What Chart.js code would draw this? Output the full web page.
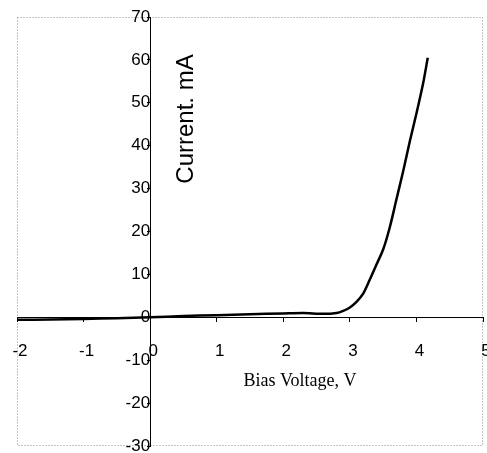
<!DOCTYPE html>
<html>
<head>
<meta charset="utf-8">
<script src="https://cdn.jsdelivr.net/npm/chart.js@4"></script>
<style>
  body { margin: 0; background: #fff; }
  #wrap { width: 487px; height: 453px; }
</style>
</head>
<body>
<div id="wrap"><canvas id="myChart" width="487" height="453"></canvas></div>
<script>
// I-V curve
const voltage = [-2, -1.5, -1, -0.5, 0, 0.5, 1, 1.5, 2, 2.3, 2.6, 2.8, 2.9, 3.0, 3.1, 3.2, 3.3, 3.4, 3.5, 3.6, 3.7, 3.8, 3.9, 4.0, 4.1, 4.17];
const current = [-0.6, -0.5, -0.4, -0.2, 0, 0.3, 0.5, 0.7, 0.9, 1.0, 0.8, 1.0, 1.5, 2.3, 3.6, 5.5, 8.8, 12.3, 15.8, 21, 27.5, 34, 41, 47.5, 54.5, 60.5];

const xTitle = 'Bias Voltage, V';
const yTitle = 'Current. mA';

const points = [];
for (let i = 0; i < voltage.length; i++) {
  points.push({ x: voltage[i], y: current[i] });
}

// keep the tick labels from shrinking the plot area
const noOverhang = (scale) => {
  scale.paddingLeft = 0;
  scale.paddingRight = 0;
  scale.paddingTop = 0;
  scale.paddingBottom = 0;
};

const frameAndTitles = {
  id: 'frameAndTitles',
  beforeDraw(chart) {
    const { ctx, chartArea } = chart;
    ctx.save();
    ctx.strokeStyle = '#8a8a8a';
    ctx.lineWidth = 1;
    ctx.setLineDash([1, 2]);
    ctx.strokeRect(chartArea.left + 0.5, chartArea.top + 0.5,
      chartArea.right - chartArea.left - 1, chartArea.bottom - chartArea.top - 1);
    ctx.restore();
  },
  afterDraw(chart) {
    const { ctx } = chart;
    ctx.save();
    ctx.fillStyle = '#000';
    ctx.textAlign = 'center';
    ctx.textBaseline = 'middle';
    ctx.font = '18px "Liberation Serif"';
    ctx.fillText(xTitle, 300, 381);
    ctx.translate(186, 119);
    ctx.rotate(-Math.PI / 2);
    ctx.font = '24px "Liberation Sans"';
    ctx.fillText(yTitle, 0, 0);
    ctx.restore();
  }
};

new Chart(document.getElementById('myChart').getContext('2d'), {
  type: 'scatter',
  data: {
    datasets: [
      {
        data: points,
        showLine: true,
        borderColor: '#000',
        borderWidth: 2.5,
        pointRadius: 0,
        tension: 0.3,
      },
    ],
  },
  options: {
    responsive: false,
    animation: false,
    layout: { padding: { left: 17, top: 17, right: 4, bottom: 7 } },
    plugins: { legend: { display: false }, tooltip: { enabled: false } },
    scales: {
      x: {
        type: 'linear',
        min: -2,
        max: 5,
        position: { y: 0 },
        afterFit: noOverhang,
        ticks: {
          stepSize: 1,
          color: '#000',
          font: { family: 'Liberation Sans', size: 17 },
          padding: 20,
          labelOffset: 3,
        },
        grid: { drawOnChartArea: false, color: '#000', tickLength: 4 },
        border: { color: '#000', width: 1 },
      },
      y: {
        type: 'linear',
        min: -30,
        max: 70,
        position: { x: 0 },
        afterFit: noOverhang,
        ticks: {
          stepSize: 10,
          color: '#000',
          font: { family: 'Liberation Sans', size: 17 },
          padding: 0,
        },
        grid: { drawOnChartArea: false, color: '#000', tickLength: 3 },
        border: { color: '#000', width: 1 },
      },
    },
  },
  plugins: [frameAndTitles],
});
</script>
</body>
</html>
